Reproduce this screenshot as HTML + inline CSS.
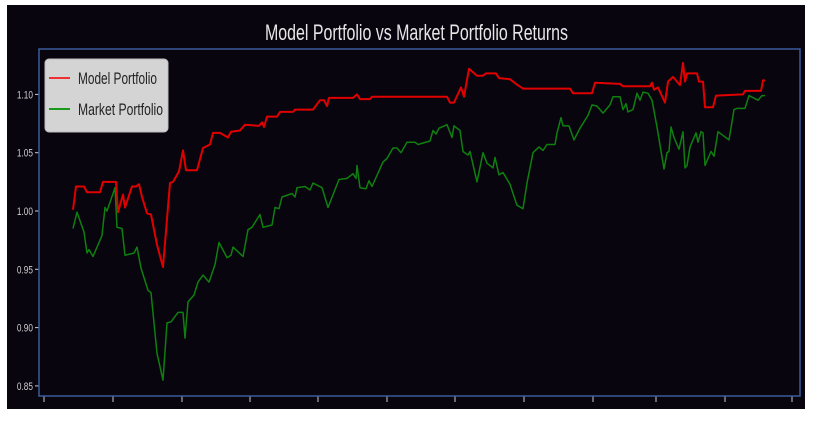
<!DOCTYPE html>
<html><head><meta charset="utf-8"><style>
html,body{margin:0;padding:0;background:#fff;width:817px;height:421px;overflow:hidden}
svg{display:block;font-family:"Liberation Sans",sans-serif}
</style></head><body>
<svg id="chart" width="817" height="421">
<rect x="7" y="5" width="798" height="404" fill="#08050e"/>
<text x="265" y="40" font-size="22" fill="#e6e6e6" textLength="303" lengthAdjust="spacingAndGlyphs">Model Portfolio vs Market Portfolio Returns</text>
<g id="yaxis"></g>
<g id="xaxis"></g>
<g id="series"></g>
<rect x="39" y="49" width="761" height="347" fill="none" stroke="#3b5b9b" stroke-width="1.5"/>
<g>
<rect x="45" y="59" width="123" height="73" rx="4" fill="#d4d4d4" stroke="#bbb"/>
<line x1="49" y1="78" x2="70" y2="78" stroke="#f03030" stroke-width="2"/>
<text x="78" y="84" font-size="17" fill="#222" textLength="79" lengthAdjust="spacingAndGlyphs">Model Portfolio</text>
<line x1="49" y1="109" x2="70" y2="109" stroke="#1a9a1a" stroke-width="2"/>
<text x="78" y="115" font-size="17" fill="#222" textLength="85" lengthAdjust="spacingAndGlyphs">Market Portfolio</text>
</g>
</svg>
<script>
const yTicks=[0.85,0.90,0.95,1.00,1.05,1.10];
const yTickLabels=["0.85","0.90","0.95","1.00","1.05","1.10"];
const xTickDays=[-29,40,109,177,245,314,382,451,520,583,652,719];
const modelDays=[0,3,11,14,27,30,43,45,50,52,59,63,66,69,74,78,84,90,97,100,106,110,113,124,130,137,140,147,155,158,167,172,186,189,191,194,204,207,220,222,240,247,251,254,256,280,284,287,297,299,374,377,381,388,391,396,404,410,413,423,426,437,443,450,497,500,519,522,547,550,577,579,581,585,592,595,600,607,610,612,614,624,626,630,632,640,643,670,672,688,690,692];
const modelValues=[1.001,1.021,1.021,1.016,1.016,1.025,1.025,0.999,1.014,1.003,1.021,1.021,1.023,1.012,0.998,0.997,0.971,0.952,1.024,1.025,1.034,1.052,1.035,1.035,1.054,1.057,1.067,1.067,1.063,1.068,1.069,1.074,1.073,1.076,1.072,1.081,1.081,1.085,1.085,1.087,1.087,1.095,1.095,1.090,1.097,1.097,1.100,1.096,1.096,1.098,1.098,1.093,1.093,1.106,1.098,1.122,1.116,1.116,1.118,1.118,1.114,1.113,1.109,1.105,1.105,1.101,1.101,1.110,1.109,1.107,1.107,1.110,1.104,1.106,1.093,1.111,1.115,1.108,1.127,1.111,1.118,1.118,1.111,1.111,1.089,1.089,1.099,1.100,1.103,1.103,1.112,1.112];
const marketDays=[0,4,11,14,16,20,29,32,34,42,44,49,52,61,64,68,75,78,84,90,94,98,105,110,112,115,121,125,130,136,140,142,146,154,158,160,170,175,179,187,190,199,202,206,209,219,222,224,232,237,240,249,255,266,274,280,283,284,287,293,296,299,310,314,320,324,328,334,342,345,357,360,363,366,374,379,381,387,390,395,397,404,410,414,420,422,426,430,437,440,444,450,454,460,466,470,474,482,484,488,490,496,501,507,515,519,524,530,537,540,547,550,553,555,560,564,567,570,575,579,584,591,594,596,598,601,606,610,612,614,617,623,625,628,630,632,638,641,645,656,661,664,672,676,685,689,692];
const marketValues=[0.985,0.999,0.982,0.964,0.967,0.961,0.979,1.003,1.000,1.020,0.986,0.985,0.962,0.964,0.969,0.951,0.932,0.930,0.878,0.855,0.904,0.905,0.913,0.913,0.891,0.922,0.928,0.939,0.945,0.939,0.949,0.954,0.973,0.960,0.962,0.969,0.961,0.984,0.986,0.997,0.986,0.988,1.003,1.002,1.012,1.015,1.012,1.020,1.021,1.018,1.024,1.020,1.003,1.027,1.028,1.032,1.028,1.039,1.020,1.019,1.026,1.021,1.042,1.045,1.054,1.054,1.050,1.059,1.059,1.057,1.060,1.069,1.066,1.071,1.074,1.063,1.073,1.069,1.051,1.048,1.051,1.025,1.050,1.041,1.037,1.046,1.031,1.033,1.023,1.015,1.005,1.002,1.024,1.050,1.055,1.052,1.057,1.057,1.067,1.080,1.073,1.073,1.061,1.071,1.082,1.091,1.090,1.084,1.091,1.098,1.098,1.087,1.092,1.085,1.087,1.101,1.095,1.102,1.101,1.095,1.072,1.036,1.050,1.051,1.072,1.063,1.053,1.068,1.037,1.039,1.055,1.067,1.059,1.068,1.067,1.039,1.051,1.047,1.068,1.061,1.087,1.088,1.088,1.099,1.095,1.099,1.099];
const NS="http://www.w3.org/2000/svg";
function xScale(d){return 73+d;}
function yScale(v){return 211-(v-1)*1166;}
const yg=document.getElementById('yaxis'),xg=document.getElementById('xaxis'),sg=document.getElementById('series');
yTicks.forEach((v,i)=>{
 const y=yScale(v);
 const t=document.createElementNS(NS,'line');
 t.setAttribute('x1',35);t.setAttribute('x2',39);t.setAttribute('y1',y);t.setAttribute('y2',y);t.setAttribute('stroke','#ccc');
 
 
 yg.appendChild(t);
 const l=document.createElementNS(NS,'text');
 l.setAttribute('x',33);l.setAttribute('y',y+4);l.setAttribute('text-anchor','end');l.setAttribute('font-size','11');l.setAttribute('fill','#d0d0d0');
 l.setAttribute('transform','translate(33,0) scale(0.75,1) translate(-33,0)');
 l.textContent=yTickLabels[i];
 
 
 yg.appendChild(l);
});
xTickDays.forEach(d=>{
 const x=xScale(d);
 const t=document.createElementNS(NS,'line');
 t.setAttribute('x1',x);t.setAttribute('x2',x);t.setAttribute('y1',396);t.setAttribute('y2',402);t.setAttribute('stroke','#ccc');
 
 
 xg.appendChild(t);
});
function line(days,vals,color,w,name){
 const n=Math.min(days.length,vals.length);
 const pts=[];
 for(let i=0;i<n;i++)pts.push(xScale(days[i])+','+yScale(vals[i]).toFixed(1));
 const p=document.createElementNS(NS,'polyline');
 p.setAttribute('points',pts.join(' '));
 p.setAttribute('fill','none');p.setAttribute('stroke',color);p.setAttribute('stroke-width',w);p.setAttribute('stroke-linejoin','round');
 
 
 sg.appendChild(p);
}
line(modelDays,modelValues,'#e00000',2,'model-portfolio-line');
line(marketDays,marketValues,'#0f7f0f',1.5,'market-portfolio-line');
</script>
</body></html>
